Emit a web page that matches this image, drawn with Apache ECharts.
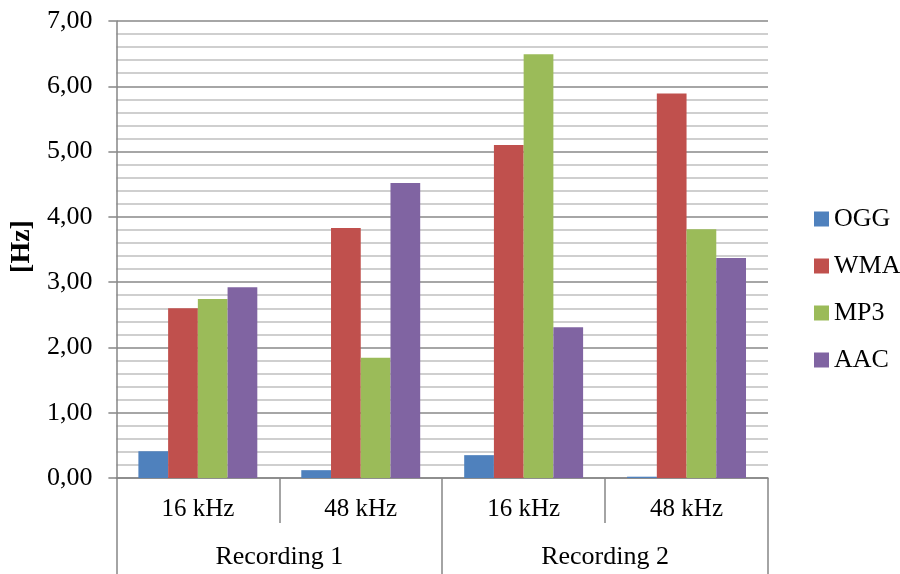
<!DOCTYPE html>
<html>
<head>
<meta charset="utf-8">
<script src="https://cdn.jsdelivr.net/npm/echarts@6/dist/echarts.min.js"></script>
<style>html,body{margin:0;padding:0;background:#fff}#c{width:900px;height:574px}</style>
</head>
<body>
<div id="c"></div>
<script>
var innerCategories = ['16 kHz', '48 kHz', '16 kHz', '48 kHz'];
var outerCategories = ['Recording 1', 'Recording 2'];
var seriesNames = ['OGG', 'WMA', 'MP3', 'AAC'];
var ogg = [0.41, 0.12, 0.35, 0.02];
var wma = [2.60, 3.83, 5.10, 5.89];
var mp3 = [2.74, 1.84, 6.49, 3.81];
var aac = [2.92, 4.52, 2.31, 3.37];
var colors = ['#4F81BD', '#C0504D', '#9BBB59', '#8064A2'];

var font = '"Liberation Serif", "Times New Roman", serif';
var values = [ogg, wma, mp3, aac];
var chart = echarts.init(document.getElementById('c'));
chart.setOption({
  animation: false,
  textStyle: { fontFamily: font },
  grid: { left: 115, right: 132, top: 21, bottom: 96 },
  legend: {
    orient: 'vertical', left: 809, top: 201,
    data: seriesNames, itemWidth: 15, itemHeight: 15, itemGap: 21,
    icon: 'rect',
    textStyle: { fontFamily: font, fontSize: 26, color: '#000' }
  },
  xAxis: [{
    type: 'category', data: innerCategories, position: 'bottom',
    axisLine: { lineStyle: { color: '#868686', width: 1.5 } },
    axisTick: { show: true, interval: 0, length: 45, lineStyle: { color: '#868686', width: 1.5 } },
    axisLabel: { interval: 0, margin: 19, color: '#000', fontFamily: font, fontSize: 25 }
  }, {
    type: 'category', data: outerCategories, position: 'bottom', offset: 0,
    axisLine: { show: false },
    axisTick: { show: true, interval: 0, length: 96, lineStyle: { color: '#868686', width: 1.5 } },
    axisLabel: { interval: 0, margin: 66, color: '#000', fontFamily: font, fontSize: 26 }
  }],
  yAxis: {
    type: 'value', min: 0, max: 7, interval: 1,
    name: '[Hz]', nameLocation: 'middle', nameGap: 78, nameRotate: 90,
    nameTextStyle: { fontFamily: font, fontSize: 28, fontWeight: 'bold', color: '#000', padding: [0, 0, 0, 6] },
    axisLine: { show: true, lineStyle: { color: '#868686', width: 1.5 } },
    axisTick: { show: true, length: 8, lineStyle: { color: '#868686', width: 1.5 } },
    axisLabel: { margin: 24, color: '#000', fontFamily: font, fontSize: 26,
      formatter: function (v) { return v.toFixed(2).replace('.', ','); } },
    splitLine: { show: true, lineStyle: { color: '#898989', width: 1.5 } },
    minorTick: { show: false, splitNumber: 5 },
    minorSplitLine: { show: true, lineStyle: { color: '#C0C0C0', width: 1.5 } }
  },
  series: seriesNames.map(function (n, i) {
    return {
      name: n, type: 'bar', xAxisIndex: 0, data: values[i],
      barGap: '0%', barCategoryGap: '27%',
      itemStyle: { color: colors[i] }
    };
  })
});
</script>
</body>
</html>
